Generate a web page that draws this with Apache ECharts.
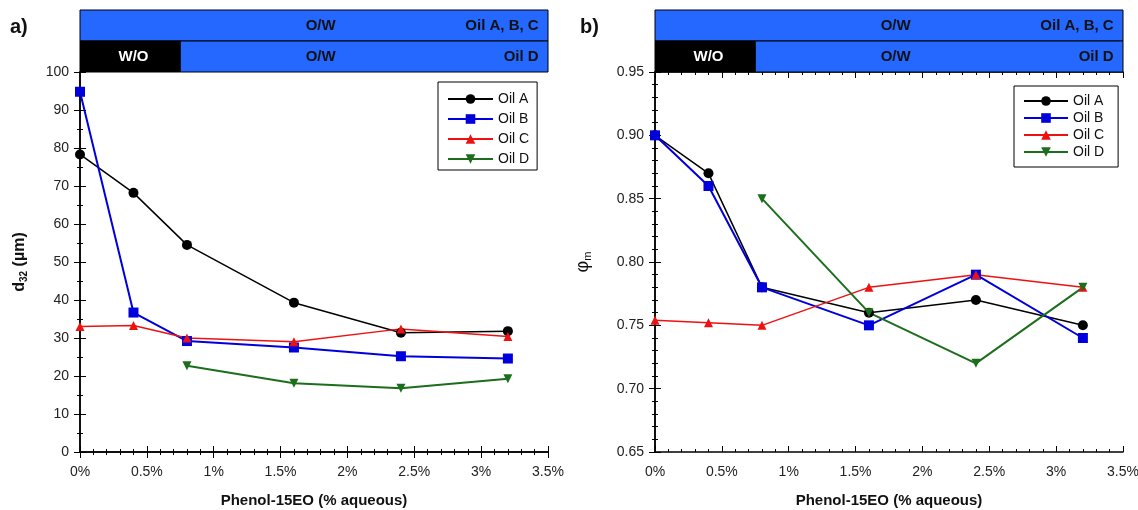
<!DOCTYPE html>
<html><head><meta charset="utf-8">
<script src="https://cdn.jsdelivr.net/npm/echarts@6/dist/echarts.min.js"></script>
<style>html,body{margin:0;padding:0;background:#fff}#c{width:1138px;height:510px}</style>
</head><body><div id="c"></div>
<script>
const xVals = [0, 0.4, 0.8, 1.6, 2.4, 3.2];
const xValsD = [0.8, 1.6, 2.4, 3.2];
const seriesNames = ['Oil A', 'Oil B', 'Oil C', 'Oil D'];
// panel a) d32 (µm)
const d32A = [78.3, 68.2, 54.5, 39.3, 31.4, 31.8];
const d32B = [94.8, 36.7, 29.2, 27.5, 25.2, 24.6];
const d32C = [33.0, 33.3, 30.0, 29.0, 32.4, 30.4];
const d32D = [22.7, 18.1, 16.8, 19.3];
// panel b) phi_m
const phiA = [0.90, 0.87, 0.78, 0.76, 0.77, 0.75];
const phiB = [0.90, 0.86, 0.78, 0.75, 0.79, 0.74];
const phiC = [0.754, 0.752, 0.750, 0.78, 0.79, 0.78];
const phiD = [0.85, 0.76, 0.72, 0.78];
// emulsion type bands: [start %, end %, row (1 = Oil A,B,C ; 0 = Oil D), type]
const bands = [[0, 3.5, 1, 'O/W'], [0, 0.75, 0, 'W/O'], [0.75, 3.5, 0, 'O/W']];
// band labels: [x %, row, text, align]
const bandLabels = [[1.8, 1, 'O/W', 'center'], [3.43, 1, 'Oil A, B, C', 'right'],
                    [0.4, 0, 'W/O', 'center'], [1.8, 0, 'O/W', 'center'], [3.43, 0, 'Oil D', 'right']];
const xTicks = {min: 0, max: 3.5, interval: 0.5};

const FONT = '"Liberation Sans", Arial, sans-serif';
const colors = {A: '#000000', B: '#0000dd', C: '#ee1111', D: '#1c6e1c'};
const BLUE = '#2468ff';

function pairs(xs, ys) { return xs.map((x, i) => [x, ys[i]]); }

const chart = echarts.init(document.getElementById('c'));

const grids = [
  {left: 80, top: 72, width: 468, height: 380, outerBoundsMode: 'none', containLabel: false},
  {left: 655, top: 72, width: 468, height: 380, outerBoundsMode: 'none', containLabel: false},
  {left: 80, top: 10, width: 468, height: 62, outerBoundsMode: 'none', containLabel: false},
  {left: 655, top: 10, width: 468, height: 62, outerBoundsMode: 'none', containLabel: false}
];

function mainX(gi, pos, labels) {
  return {
    type: 'value', gridIndex: gi, position: pos, min: xTicks.min, max: xTicks.max, interval: xTicks.interval,
    axisLine: {show: true, lineStyle: {color: '#000', width: 1.5}},
    axisTick: {show: true, inside: true, length: 6, lineStyle: {color: '#000', width: 1}},
    minorTick: {show: true, splitNumber: 5, length: 3, lineStyle: {color: '#000', width: 1}},
    splitLine: {show: false},
    axisLabel: labels ? {show: true, formatter: v => v + '%', color: '#222', fontSize: 14, fontFamily: FONT, margin: 13} : {show: false},
    name: labels ? 'Phenol-15EO (% aqueous)' : '',
    nameLocation: 'middle', nameGap: 41,
    nameTextStyle: {fontSize: 15, fontWeight: 'bold', color: '#111', fontFamily: FONT}
  };
}
function mainY(gi, pos, min, max, interval, minorSplit, labels, fmt, name, gap) {
  return {
    type: 'value', gridIndex: gi, position: pos, min: min, max: max, interval: interval,
    axisLine: {show: true, lineStyle: {color: '#000', width: 1.5}},
    axisTick: {show: true, inside: true, length: 6, lineStyle: {color: '#000', width: 1}},
    minorTick: {show: true, splitNumber: minorSplit, length: 3, lineStyle: {color: '#000', width: 1}},
    splitLine: {show: false},
    axisLabel: labels ? {show: true, formatter: fmt, color: '#222', fontSize: 14, fontFamily: FONT, margin: 11} : {show: false},
    name: labels ? name : '',
    nameLocation: 'middle', nameRotate: 90, nameGap: gap || 50,
    nameTextStyle: {
      fontFamily: FONT, color: '#111',
      rich: {
        b: {fontSize: 16, fontWeight: 'bold', fontFamily: FONT, color: '#111', lineHeight: 20},
        s: {fontSize: 10, fontWeight: 'bold', fontFamily: FONT, color: '#111', lineHeight: 20, padding: [9, 0, 0, 0]},
        phi: {fontSize: 18, fontFamily: FONT, color: '#111', lineHeight: 20},
        sm: {fontSize: 11, fontFamily: FONT, color: '#111', lineHeight: 20, padding: [9, 0, 0, 0]}
      }
    }
  };
}
function hiddenAxis(gi, min, max) {
  return {type: 'value', gridIndex: gi, min: min, max: max, show: false};
}

const xAxis = [
  mainX(0, 'bottom', true), mainX(0, 'top', false),
  mainX(1, 'bottom', true), mainX(1, 'top', false),
  hiddenAxis(2, 0, 3.5), hiddenAxis(3, 0, 3.5)
];
const yAxis = [
  mainY(0, 'left', 0, 100, 10, 2, true, v => v, '{b|d}{s|32}{b| (µm)}', 50),
  mainY(0, 'right', 0, 100, 10, 2, false),
  mainY(1, 'left', 0.65, 0.95, 0.05, 5, true, v => v.toFixed(2), '{phi|φ}{sm|m}', 62),
  mainY(1, 'right', 0.65, 0.95, 0.05, 5, false),
  hiddenAxis(2, 0, 2), hiddenAxis(3, 0, 2)
];

function lineSeries(name, data, xi, yi, color, symbol, size, width, rotate) {
  return {
    type: 'line', name: name, data: data, xAxisIndex: xi, yAxisIndex: yi,
    symbol: symbol, symbolSize: size, symbolRotate: rotate || 0,
    itemStyle: {color: color}, lineStyle: {color: color, width: width},
    showAllSymbol: true, animation: false, z: 3
  };
}

function bandSeries(xi, yi) {
  return {
    type: 'custom', xAxisIndex: xi, yAxisIndex: yi, animation: false, silent: true,
    data: bands.map(b => [b[0], b[1], b[2]]),
    renderItem: function (params, api) {
      const x0 = api.value(0), x1 = api.value(1), r = api.value(2);
      const type = bands[params.dataIndex][3];
      const p0 = api.coord([x0, r + 1]);
      const p1 = api.coord([x1, r]);
      return {
        type: 'rect',
        shape: {x: p0[0], y: p0[1], width: p1[0] - p0[0], height: p1[1] - p0[1]},
        style: {fill: type === 'W/O' ? '#000' : BLUE, stroke: '#000', lineWidth: 1}
      };
    }
  };
}
function bandLabelSeries(xi, yi) {
  return {
    type: 'custom', xAxisIndex: xi, yAxisIndex: yi, animation: false, silent: true, z: 5,
    data: bandLabels.map(l => [l[0], l[1]]),
    renderItem: function (params, api) {
      const l = bandLabels[params.dataIndex];
      const p = api.coord([l[0], l[1] + 0.5]);
      return {
        type: 'text',
        x: p[0], y: p[1],
        style: {text: l[2], textAlign: l[3], textVerticalAlign: 'middle',
                fill: l[2] === 'W/O' ? '#fff' : '#111', font: 'bold 15px ' + FONT}
      };
    }
  };
}

const legendBase = {
  orient: 'vertical', data: seriesNames, backgroundColor: '#fff',
  borderColor: '#000', borderWidth: 1, borderRadius: 0,
  itemWidth: 45, itemHeight: 12, itemGap: 6,
  textStyle: {fontSize: 14, fontFamily: FONT, color: '#111'},
  selectedMode: false
};

const option = {
  backgroundColor: '#fff',
  animation: false,
  grid: grids,
  xAxis: xAxis,
  yAxis: yAxis,
  legend: [
    Object.assign({}, legendBase, {left: 438, top: 82, padding: [10, 8, 4, 9]}),
    Object.assign({}, legendBase, {left: 1014, top: 86, itemWidth: 44, itemGap: 3, padding: [8, 14, 8, 9]})
  ],
  graphic: [
    {type: 'text', left: 10, top: 17, style: {text: 'a)', font: 'bold 20px ' + FONT, fill: '#111'}},
    {type: 'text', left: 580, top: 17, style: {text: 'b)', font: 'bold 20px ' + FONT, fill: '#111'}}
  ],
  series: [
    lineSeries('Oil A', pairs(xVals, d32A), 0, 0, colors.A, 'circle', 10, 1.5),
    lineSeries('Oil B', pairs(xVals, d32B), 0, 0, colors.B, 'rect', 10, 2),
    lineSeries('Oil C', pairs(xVals, d32C), 0, 0, colors.C, 'triangle', 9, 1.5),
    lineSeries('Oil D', pairs(xValsD, d32D), 0, 0, colors.D, 'triangle', 9, 2, 180),
    lineSeries('Oil A', pairs(xVals, phiA), 2, 2, colors.A, 'circle', 10, 1.5),
    lineSeries('Oil B', pairs(xVals, phiB), 2, 2, colors.B, 'rect', 10, 2),
    lineSeries('Oil C', pairs(xVals, phiC), 2, 2, colors.C, 'triangle', 9, 1.5),
    lineSeries('Oil D', pairs(xValsD, phiD), 2, 2, colors.D, 'triangle', 9, 2, 180),
    bandSeries(4, 4), bandLabelSeries(4, 4),
    bandSeries(5, 5), bandLabelSeries(5, 5)
  ]
};
chart.setOption(option);
</script>
</body></html>
